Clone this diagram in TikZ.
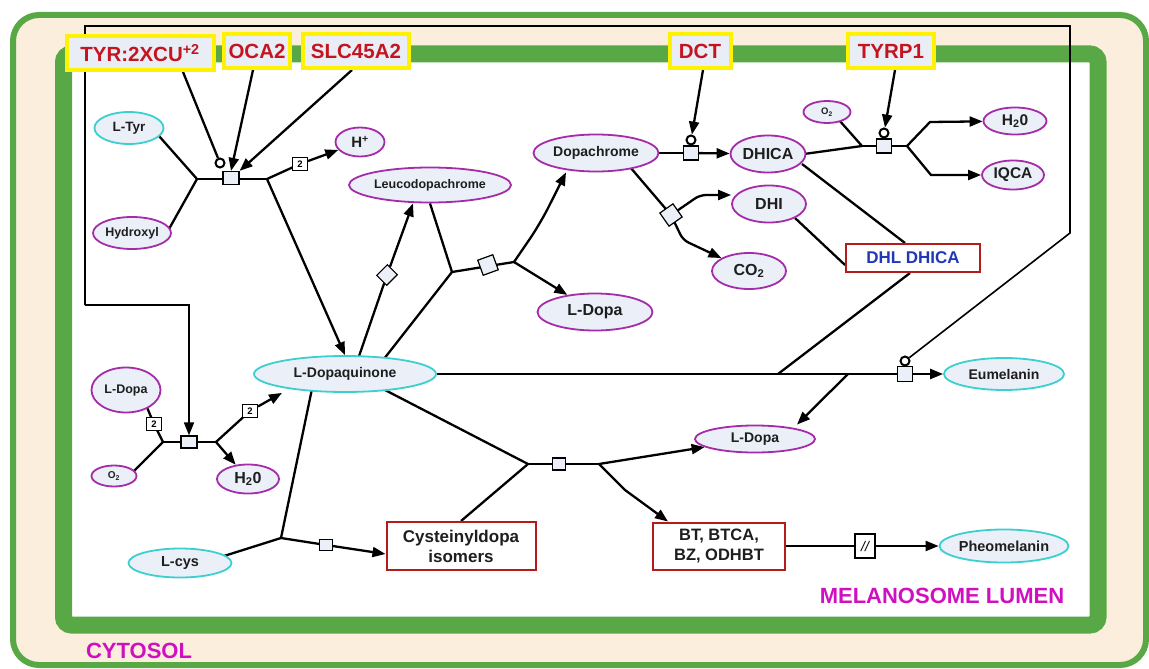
\documentclass[tikz,border=0pt]{standalone}
\usepackage{fontspec}
\setmainfont{Liberation Sans}
\usetikzlibrary{shapes.geometric,arrows.meta}

\definecolor{cream}{HTML}{FCEEDD}
\definecolor{memgreen}{HTML}{58A845}
\definecolor{nodefill}{HTML}{EBF0F8}
\definecolor{magb}{HTML}{A42CA8}
\definecolor{cyanb}{HTML}{3CCFD0}
\definecolor{genered}{HTML}{C41420}
\definecolor{genebox}{HTML}{FFF200}
\definecolor{genefill}{HTML}{E9EEF6}
\definecolor{boxred}{HTML}{B41C1C}
\definecolor{dhlblue}{HTML}{2038B8}
\definecolor{lumen}{HTML}{D010C0}
\definecolor{txt}{HTML}{1E1E1E}

\newcommand\pxfont[1]{\fontsize{#1}{#1}\selectfont\bfseries}

\pgfdeclarelayer{bg}
\pgfdeclarelayer{edges}
\pgfsetlayers{bg,edges,main}

\begin{document}
\begin{tikzpicture}[x=1pt,y=-1pt,
  ln/.style={line width=2.3pt, draw=black},
  thinln/.style={line width=1.6pt, draw=black},
  arr/.style={-{Triangle[length=13pt,width=10pt]}},
  ell/.style={ellipse, line width=1.8pt, fill=nodefill, inner sep=0pt, text=txt},
  mag/.style={ell, draw=magb},
  cyn/.style={ell, draw=cyanb},
  gene/.style={rectangle, draw=genebox, line width=4pt, fill=genefill, text=genered,
    inner sep=0pt, minimum height=34pt, font=\pxfont{20.5}},
  prodbox/.style={rectangle, draw=boxred, line width=2pt, fill=white, inner sep=0pt,
    align=center, text=txt},
  proc/.style={rectangle, draw=black, line width=1.2pt, fill=nodefill, inner sep=0pt,
    minimum width=15pt, minimum height=14pt},
  stoich/.style={rectangle, draw=black, line width=1pt, fill=white, inner sep=0pt,
    minimum width=15pt, minimum height=13pt, font=\pxfont{9.5}},
  modc/.style={circle, draw=black, line width=2pt, fill=white, inner sep=0pt, minimum size=9pt},
  compart/.style={text=lumen, font=\pxfont{22}}
]
\useasboundingbox (0,0) rectangle (1149,669);

% ---------- compartments ----------
\begin{pgfonlayer}{bg}
  \fill[white] (0,0) rectangle (1149,669);
  \draw[memgreen, line width=6pt, fill=cream, rounded corners=26pt] (13,15) rectangle (1146,665);
  \draw[memgreen, line width=17pt, fill=white, rounded corners=8pt] (63.5,54) rectangle (1098,625);
\end{pgfonlayer}

\node[compart] (lumenlbl) at (942,596) {MELANOSOME LUMEN};
\node[compart] (cytolbl) at (139,651) {CYTOSOL};

% ---------- enzymes / transporters ----------
\node[gene, minimum width=147pt] (tyr) at (140,53) {TYR:2XCU\textsuperscript{+2}};
\node[gene, minimum width=66pt] (oca) at (257,51) {OCA2};
\node[gene, minimum width=106pt] (slc) at (356,51) {SLC45A2};
\node[gene, minimum width=61pt] (dct) at (700,51) {DCT};
\node[gene, minimum width=86pt] (tyrp) at (891,51) {TYRP1};

% ---------- species ----------
\node[cyn, minimum width=69pt, minimum height=32pt, font=\pxfont{13.5}] (ltyr) at (129,128) {L-Tyr};
\node[mag, minimum width=78pt, minimum height=32pt, font=\pxfont{12.5}] (hyd) at (132,233) {Hydroxyl};
\node[mag, minimum width=49pt, minimum height=29pt, font=\pxfont{15}] (hplus) at (360,142) {H\textsuperscript{+}};
\node[mag, minimum width=162pt, minimum height=35pt, font=\pxfont{12.5}] (leuco) at (430,185) {Leucodopachrome};
\node[mag, minimum width=125pt, minimum height=37pt, font=\pxfont{14}] (dopa) at (596,153) {Dopachrome};
\node[mag, minimum width=75pt, minimum height=37pt, font=\pxfont{16}] (dhica) at (768,154) {DHICA};
\node[mag, minimum width=74pt, minimum height=37pt, font=\pxfont{16}] (dhi) at (769,204) {DHI};
\node[mag, minimum width=74pt, minimum height=36pt, font=\pxfont{16}] (co2) at (749,271) {CO\textsubscript{2}};
\node[mag, minimum width=47pt, minimum height=22pt, font=\pxfont{9.5}] (o2R) at (827,112) {O\textsubscript{2}};
\node[mag, minimum width=63pt, minimum height=27pt, font=\pxfont{15.5}] (h2oR) at (1015,121) {H\textsubscript{2}0};
\node[mag, minimum width=62pt, minimum height=29pt, font=\pxfont{15.5}] (iqca) at (1013,175) {IQCA};
\node[mag, minimum width=115pt, minimum height=37pt, font=\pxfont{16}] (ldopaM) at (595,312) {L-Dopa};
\node[cyn, minimum width=182pt, minimum height=36pt, font=\pxfont{14}] (ldq) at (345,374) {L-Dopaquinone};
\node[mag, minimum width=69pt, minimum height=45pt, font=\pxfont{12.5}] (ldopaL) at (126,390) {L-Dopa};
\node[mag, minimum width=45pt, minimum height=21pt, font=\pxfont{10}] (o2L) at (114,476) {O\textsubscript{2}};
\node[mag, minimum width=62pt, minimum height=29pt, font=\pxfont{16}] (h2oL) at (248,479) {H\textsubscript{2}0};
\node[cyn, minimum width=103pt, minimum height=29pt, font=\pxfont{14.5}] (lcys) at (180,563) {L-cys};
\node[mag, minimum width=120pt, minimum height=27pt, font=\pxfont{14}] (ldopaB) at (755,439) {L-Dopa};
\node[cyn, minimum width=120pt, minimum height=32pt, font=\pxfont{14}] (eum) at (1004,374) {Eumelanin};
\node[cyn, minimum width=129pt, minimum height=33pt, font=\pxfont{14.5}] (pheo) at (1004,546) {Pheomelanin};

\node[prodbox, minimum width=149pt, minimum height=48pt, font=\fontsize{17}{20}\selectfont\bfseries] (cyst) at (461,546) {Cysteinyldopa\\isomers};
\node[prodbox, minimum width=132pt, minimum height=47pt, font=\fontsize{16.5}{20}\selectfont\bfseries] (bt) at (719,546) {BT, BTCA,\\BZ, ODHBT};
\node[prodbox, minimum width=134pt, minimum height=28pt, font=\pxfont{17}, text=dhlblue] (dhl) at (913,258) {DHL DHICA};

% ---------- process nodes ----------
\node[proc, minimum width=16pt, minimum height=13pt] (r1) at (231,178) {};
\node[proc, rotate=45] (r2) at (387,275) {};
\node[proc, rotate=20, minimum width=16pt, minimum height=16pt] (r3) at (488,265) {};
\node[proc] (r4) at (691,153) {};
\node[proc, rotate=35, minimum width=16pt, minimum height=16pt] (r5) at (671,215) {};
\node[proc] (r6) at (884,146) {};
\node[proc, minimum width=16pt, minimum height=12pt] (r7) at (189,442) {};
\node[proc, minimum width=13pt, minimum height=11pt] (r8) at (326,545) {};
\node[proc, minimum width=13pt, minimum height=12pt] (r9) at (559,464) {};
\node[proc, minimum width=15pt, minimum height=15pt] (reum) at (905,374) {};
\node[proc, minimum width=20pt, minimum height=24pt, fill=white, font=\fontsize{14}{14}\selectfont\itshape] (rphe) at (865,546) {//};

\node[stoich] (s1) at (300,164) {2};
\node[stoich] (s7a) at (154,424) {2};
\node[stoich] (s7b) at (250,411) {2};

\node[modc] (c1m) at (220,163) {};
\node[modc] (c4m) at (691,140) {};
\node[modc] (c6m) at (884,133) {};
\node[modc] (c9m) at (905,361) {};

% ---------- junctions and bends ----------
\coordinate (j1a) at (197,179);
\coordinate (j1b) at (267,179);
\coordinate (j3a) at (452,272);
\coordinate (j3b) at (514,262);
\coordinate (k3) at (540,224);
\coordinate (k5a) at (700,195);
\coordinate (k5b) at (683,240);
\coordinate (k7) at (778,374);
\coordinate (k8) at (848,374);
\coordinate (j6a) at (862,146);
\coordinate (j6b) at (907,146);
\coordinate (k6a) at (930,122);
\coordinate (k6b) at (931,175);
\coordinate (j7a) at (163,442);
\coordinate (j7b) at (216,442);
\coordinate (j8a) at (281,538);
\coordinate (j9a) at (528,464);
\coordinate (j9b) at (599,464);
\coordinate (k9) at (625,490);
\coordinate (t1) at (85,26);
\coordinate (t2) at (1070,26);
\coordinate (t3) at (1070,233);
\coordinate (t4) at (85,305);
\coordinate (t5) at (189,305);

% ---------- connectors ----------
\begin{pgfonlayer}{edges}
  % tyrosine hydroxylation
  \draw[ln] ([shift={(30,8)}]ltyr.center) -- (j1a);
  \draw[ln] ([shift={(37,-4)}]hyd.center) -- (j1a);
  \draw[ln] (j1a) -- (j1b);
  \draw[ln] (j1b) -- (s1.center);
  \draw[ln,arr] (s1) -- (hplus);
  \draw[ln,arr] (j1b) -- (ldq.north);
  \draw[ln] ([xshift=43pt]tyr.south) -- (c1m);
  \draw[ln,arr] ([xshift=-4pt]oca.south) -- (r1.north);
  \draw[ln,arr] ([xshift=-4pt]slc.south) -- (r1.north east);

  % dopaquinone to leucodopachrome
  \draw[ln] ([shift={(12,-12)}]ldq.center) -- (r2.center);
  \draw[ln,arr] (r2) -- ([xshift=-17pt]leuco.south);

  % redox exchange
  \draw[ln] ([shift={(35,-10)}]ldq.center) -- (j3a);
  \draw[ln] (leuco.south) -- (j3a);
  \draw[ln] (j3a) -- (j3b);
  \draw[ln,arr,rounded corners=18pt] (j3b) -- (k3) -- ([xshift=-30pt]dopa.south);
  \draw[ln,arr] (j3b) -- (ldopaM);

  % dopachrome tautomerase
  \draw[ln] (dopa.east) -- (r4);
  \draw[ln,arr] (r4) -- (dhica);
  \draw[ln,arr] ([xshift=3pt]dct.south) -- (c4m);

  % decarboxylation
  \draw[ln] ([shift={(34,14)}]dopa.center) -- (r5.center);
  \draw[ln,arr,rounded corners=6pt] (r5.center) -- (k5a) -- ([yshift=9pt]dhi.west);
  \draw[ln,arr,rounded corners=6pt] (r5.center) -- (k5b) -- (co2);

  % DHI / DHICA polymer
  \draw[ln] ([shift={(26,14)}]dhi.center) -- ([yshift=-7pt]dhl.west);
  \draw[ln] ([shift={(34,10)}]dhica.center) -- ([xshift=-8pt]dhl.north);
  \draw[ln] ([xshift=-3pt]dhl.south) -- (k7);

  % eumelanin branch
  \draw[ln] (ldq.east) -- (reum);
  \draw[ln,arr] (reum) -- (eum);
  \draw[ln,arr] (k8) -- ([xshift=42pt]ldopaB.north);

  % DHICA oxidase
  \draw[ln] ([shift={(36,0)}]dhica.center) -- (j6a);
  \draw[ln] ([shift={(12,8)}]o2R.center) -- (j6a);
  \draw[ln] (j6a) -- (j6b);
  \draw[ln,arr] ([xshift=4pt]tyrp.south) -- (c6m);
  \draw[ln,arr] (j6b) -- (k6a) -- (h2oR);
  \draw[ln,arr] (j6b) -- (k6b) -- (iqca);

  % dopa oxidation
  \draw[ln] ([shift={(20,15)}]ldopaL.center) -- (s7a.center) -- (j7a);
  \draw[ln] ([shift={(18,-3)}]o2L.center) -- (j7a);
  \draw[ln] (j7a) -- (j7b);
  \draw[ln] (j7b) -- (s7b.center);
  \draw[ln,arr] (s7b) -- ([xshift=-63pt]ldq.south);
  \draw[ln,arr] (j7b) -- (h2oL);

  % cysteine addition
  \draw[ln] ([shift={(-32,10)}]ldq.center) -- (j8a);
  \draw[ln] ([shift={(44,-7)}]lcys.center) -- (j8a);
  \draw[ln] (j8a) -- (r8.center);
  \draw[ln,arr] (r8) -- ([yshift=-8pt]cyst.west);

  % pheomelanin route
  \draw[ln] ([shift={(40,16)}]ldq.center) -- (j9a);
  \draw[ln] (cyst.north) -- (j9a);
  \draw[ln] (j9a) -- (j9b);
  \draw[ln,arr] (j9b) -- (ldopaB);
  \draw[ln,arr] (j9b) -- (k9) -- ([xshift=-51pt]bt.north);
  \draw[ln] (bt.east) -- (rphe);
  \draw[ln,arr] (rphe) -- (pheo);

  % tyrosinase acting on the lumen reactions
  \draw[thinln] (t4) -- (t1) -- (t2) -- (t3) -- (c9m);
  \draw[thinln,arr] (t4) -- (t5) -- (r7.north);
\end{pgfonlayer}
\end{tikzpicture}
\end{document}
